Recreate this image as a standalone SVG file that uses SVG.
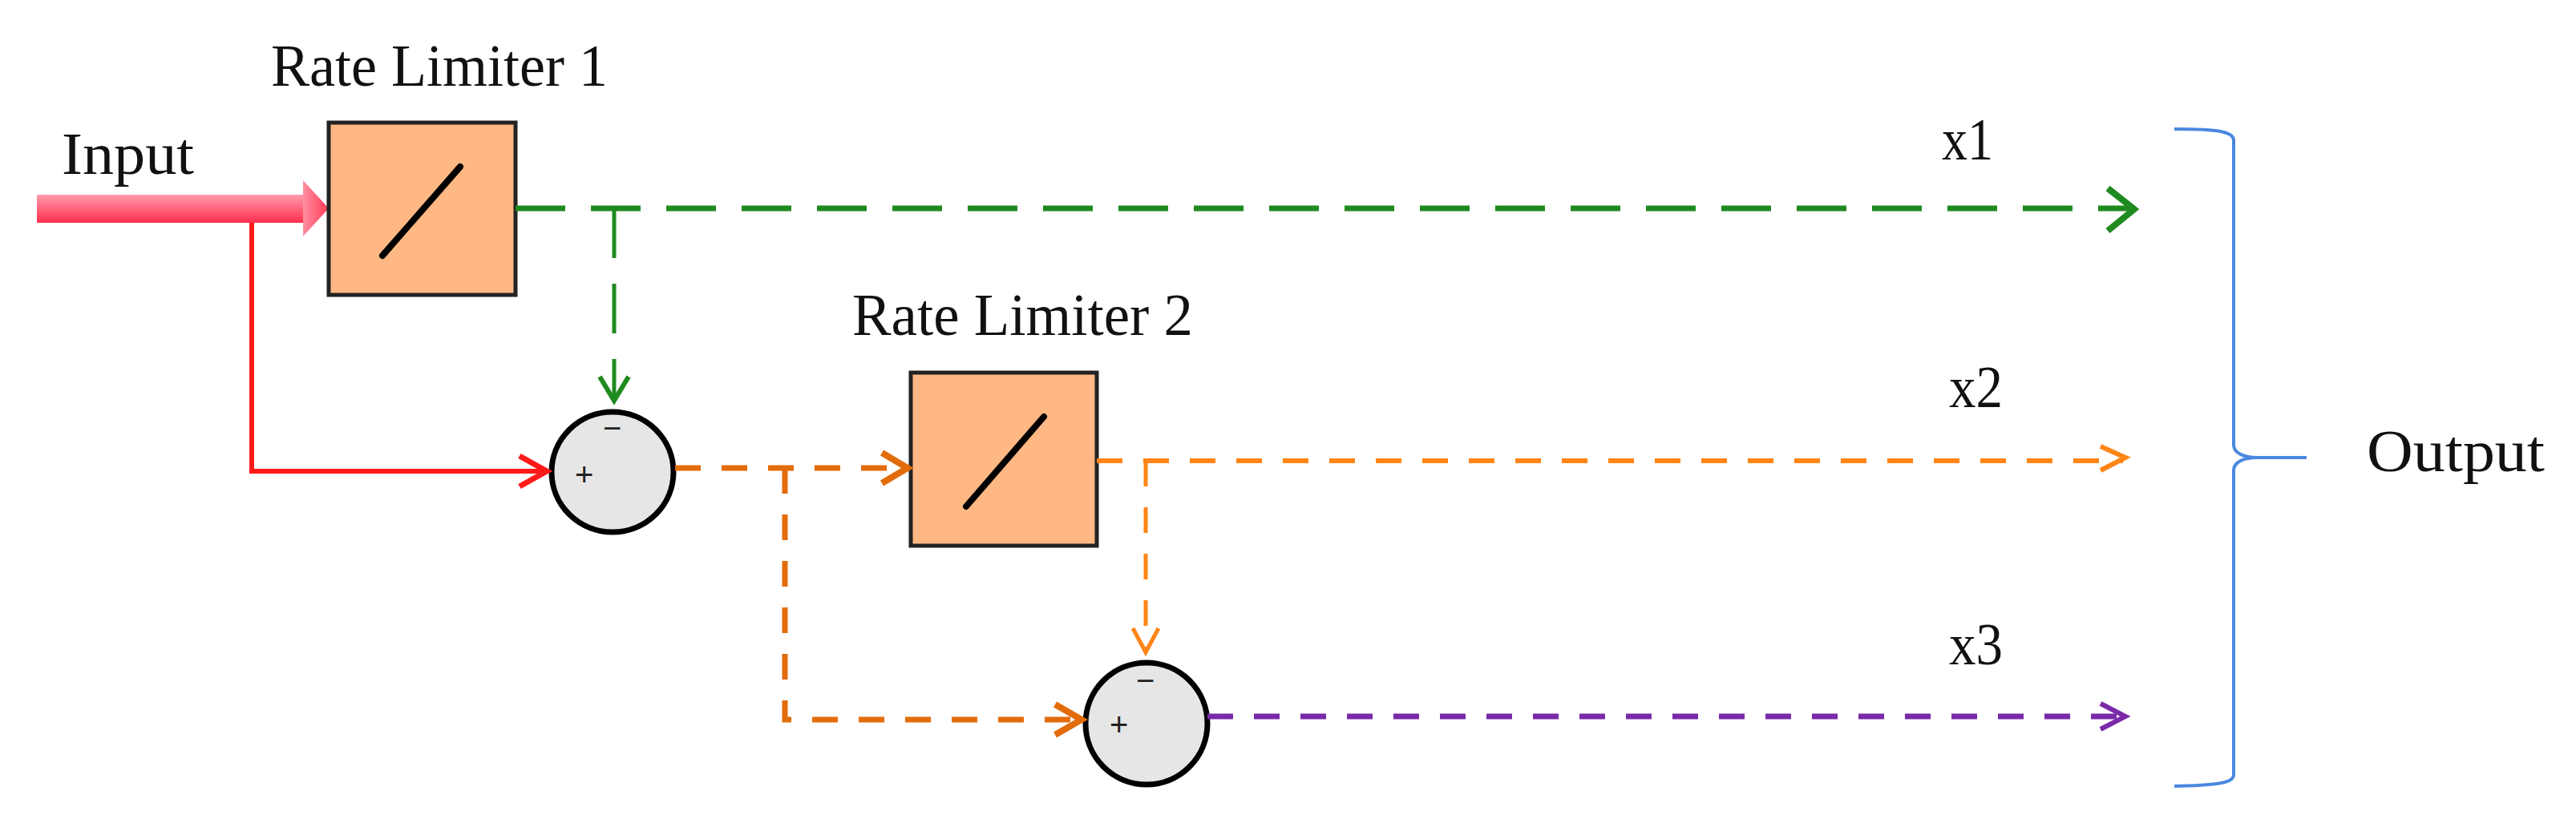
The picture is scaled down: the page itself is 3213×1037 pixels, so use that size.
<svg xmlns="http://www.w3.org/2000/svg" width="3213" height="1037" viewBox="0 0 3213 1037">
<style>
text{font-family:"Liberation Serif","DejaVu Serif",serif;fill:#111;font-size:74px}
.box{fill:#FFB884;stroke:#222;stroke-width:5}
.sl{stroke:#000;stroke-width:8;stroke-linecap:round}
.sum{fill:#E6E6E6;stroke:#000;stroke-width:7}
.sg{font-family:"Liberation Sans",sans-serif;font-size:40px;fill:#222}
.g{stroke:#1F8A1F;stroke-width:7;fill:none;stroke-dasharray:62 32}
.o1{stroke:#E36C0A;stroke-width:7;fill:none;stroke-dasharray:32 26}
.o2{stroke:#FF8516;stroke-width:6;fill:none;stroke-dasharray:32 26}
.p{stroke:#7A2AA8;stroke-width:7;fill:none;stroke-dasharray:32 26}
.r{stroke:#FF1A1A;stroke-width:6;fill:none}
</style>
<defs>
<linearGradient id="ig" x1="0" y1="0" x2="0" y2="1">
<stop offset="0" stop-color="#FF9AAA"/><stop offset="1" stop-color="#FF2E4E"/>
</linearGradient>
<linearGradient id="ih" x1="0" y1="0" x2="1" y2="0">
<stop offset="0" stop-color="#FF8FA0"/><stop offset="1" stop-color="#FF3A55"/>
</linearGradient>
</defs>
<g id="input">
<text x="77" y="217" textLength="165" lengthAdjust="spacingAndGlyphs">Input</text>
<rect x="46" y="243" width="336" height="35" fill="url(#ig)"/>
<polygon points="378,225 410,260 378,295" fill="url(#ih)"/>
</g>
<g id="rl1">
<text x="338" y="107" textLength="420" lengthAdjust="spacingAndGlyphs">Rate Limiter 1</text>
<rect class="box" x="410" y="153" width="233" height="215"/>
<line class="sl" x1="477" y1="319" x2="574" y2="208"/>
</g>
<g id="sum1">
<ellipse class="sum" cx="764" cy="589" rx="76" ry="75"/>
<text class="sg" x="752" y="548">−</text>
<text class="sg" x="717" y="606">+</text>
</g>
<g id="rl2">
<text x="1063" y="418" textLength="425" lengthAdjust="spacingAndGlyphs">Rate Limiter 2</text>
<rect class="box" x="1136" y="465" width="232" height="216"/>
<line class="sl" x1="1205" y1="632" x2="1302" y2="520"/>
</g>
<g id="sum2">
<ellipse class="sum" cx="1430" cy="903" rx="76" ry="76"/>
<text class="sg" x="1417" y="863">−</text>
<text class="sg" x="1384" y="918">+</text>
</g>
<g id="labels">
<text x="2422" y="199" textLength="64" lengthAdjust="spacingAndGlyphs">x1</text>
<text x="2431" y="508" textLength="67" lengthAdjust="spacingAndGlyphs">x2</text>
<text x="2431" y="829" textLength="67" lengthAdjust="spacingAndGlyphs">x3</text>
<text x="2952" y="588" textLength="222" lengthAdjust="spacingAndGlyphs">Output</text>
</g>
<g id="brace">
<path d="M2712,161 C2760,161 2786,163 2786,175 L2786,555 C2786,566 2800,571 2815,571 L2877,571 M2815,571 C2800,571 2786,576 2786,587 L2786,967 C2786,978 2760,980 2712,981" fill="none" stroke="#4A88E0" stroke-width="4"/>
</g>
<g id="connectors">
<path class="r" d="M314,278 V588 H682"/>
<polyline points="648,569 682,588 648,607" fill="none" stroke="#FF1A1A" stroke-width="7"/>
<path class="g" d="M643,260 H2660"/>
<polyline points="2629,235 2662,261 2629,288" fill="none" stroke="#1F8A1F" stroke-width="8"/>
<path class="g" d="M766,260 V496" style="stroke-width:5"/>
<polyline points="748,470 766,500 784,470" fill="none" stroke="#1F8A1F" stroke-width="6"/>
<path class="o1" d="M842,584 H1128"/>
<polyline points="1100,565 1132,584 1100,603" fill="none" stroke="#E36C0A" stroke-width="8"/>
<path class="o1" d="M979,584 V898 H1345"/>
<polyline points="1316,879 1349,898 1316,917" fill="none" stroke="#E36C0A" stroke-width="8"/>
<path class="o2" d="M1368,575 H2648"/>
<polyline points="2620,557 2651,571 2620,587" fill="none" stroke="#FF8516" stroke-width="6"/>
<path class="o2" d="M1429,575 V810" style="stroke-width:5"/>
<polyline points="1413,784 1429,814 1445,784" fill="none" stroke="#FF8516" stroke-width="5"/>
<path class="p" d="M1506,894 H2648"/>
<polyline points="2620,878 2651,894 2620,910" fill="none" stroke="#7A2AA8" stroke-width="6"/>
</g>
</svg>
